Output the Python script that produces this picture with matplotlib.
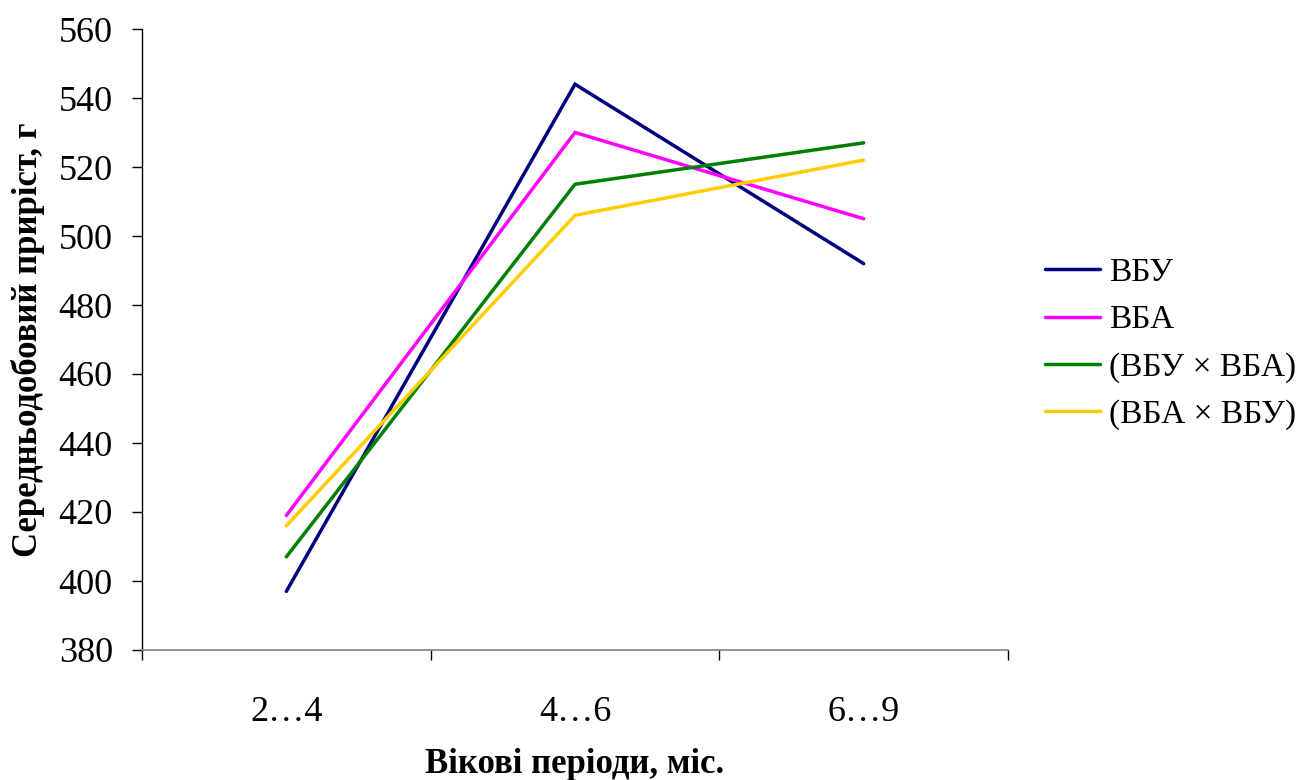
import matplotlib
matplotlib.use("Agg")
import matplotlib.pyplot as plt
from matplotlib.ticker import FixedLocator, NullFormatter, FixedFormatter

categories = ["2…4", "4…6", "6…9"]
series_names = ["ВБУ", "ВБА", "(ВБУ × ВБА)", "(ВБА × ВБУ)"]
vbu = [397, 544, 492]
vba = [419, 530, 505]
vbu_vba = [407, 515, 527]
vba_vbu = [416, 506, 522]
y_ticks = list(range(380, 561, 20))

colors = ["#000080", "#FF00FF", "#008000", "#FFCC00"]

plt.rcParams['font.family'] = ['Liberation Serif', 'DejaVu Serif']

fig = plt.figure(figsize=(13.03, 7.8), dpi=100)
ax = fig.add_axes([142/1303, 130/780, 866/1303, 621/780])

x = list(range(len(categories)))
for vals, name, c in zip([vbu, vba, vbu_vba, vba_vbu], series_names, colors):
    ax.plot(x, vals, color=c, lw=2.5, label=name, solid_capstyle='round', solid_joinstyle='miter')

ax.set_xlim(-0.5, len(categories) - 0.5)
ax.set_ylim(380, 560)
ax.set_yticks(y_ticks)
ax.tick_params(axis='y', labelsize=26, length=7, width=1, direction='out', pad=14)

ax.xaxis.set_major_locator(FixedLocator([i - 0.5 for i in range(len(categories) + 1)]))
ax.xaxis.set_major_formatter(NullFormatter())
ax.xaxis.set_minor_locator(FixedLocator(x))
ax.xaxis.set_minor_formatter(FixedFormatter(categories))
ax.tick_params(axis='x', which='major', length=7, width=1, direction='out')
ax.tick_params(axis='x', which='minor', length=0, labelsize=26, pad=33)

for s in ['top', 'right']:
    ax.spines[s].set_visible(False)
ax.spines['left'].set_color('black')
ax.spines['bottom'].set_color('#808080')
ax.spines['left'].set_linewidth(1)
ax.spines['bottom'].set_linewidth(1.2)

ax.set_xlabel("Вікові періоди, міс.", fontsize=25, fontweight='bold', labelpad=14)
ax.set_ylabel("Середньодобовий приріст, г", fontsize=25, fontweight='bold', labelpad=10)

leg = ax.legend(loc='center left', bbox_to_anchor=(1.043, 0.493), frameon=False,
                fontsize=24, handlelength=1.65, handletextpad=0.25, labelspacing=0.5,
                borderpad=0, borderaxespad=0)

fig.savefig("out.png", dpi=100)
